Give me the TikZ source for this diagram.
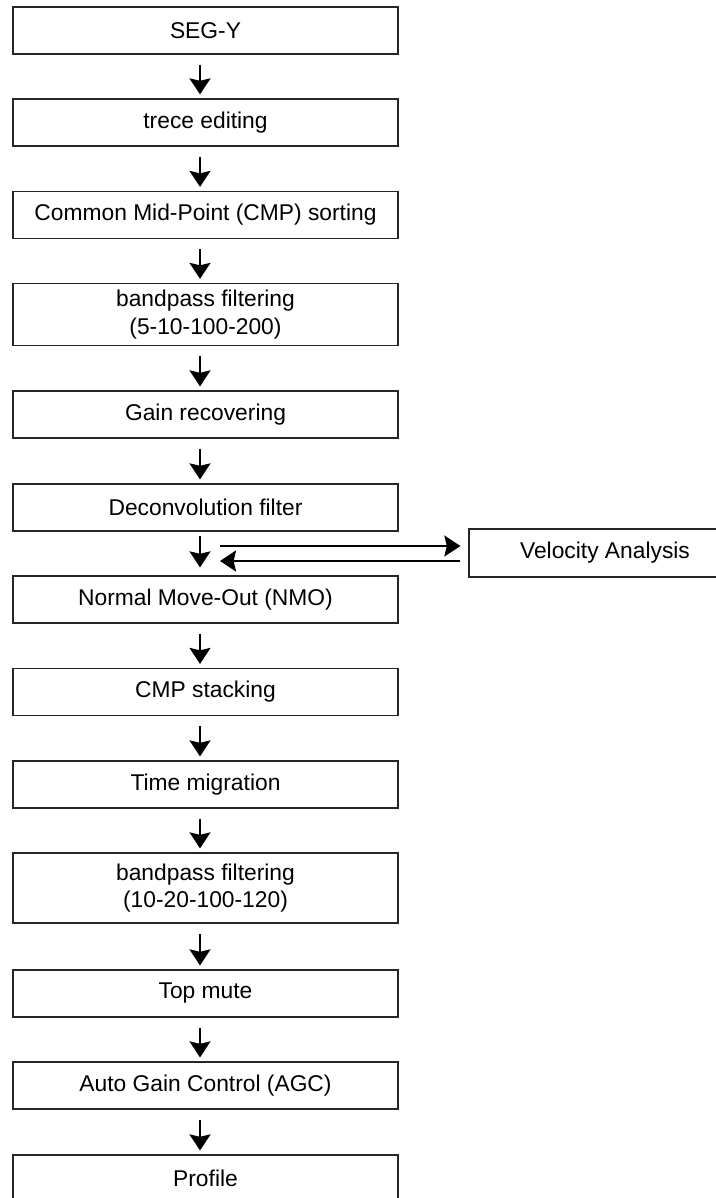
\documentclass[tikz,border=0pt]{standalone}
\usepackage{fontspec}
\setmainfont{Liberation Sans}
\usepackage{tikz}
\usetikzlibrary{arrows.meta, positioning}
\tikzstyle{process} = [rectangle, minimum width=192.5pt, minimum height=23.5pt, text centered, align=center, draw=black!85, line width=0.6pt, font=\fontsize{11.4}{13.6}\selectfont]
\tikzstyle{arrow}   = [line width=1.2pt, -{Stealth[length=8pt, width=10.5pt, inset=1.2pt]}]
\tikzstyle{flowdown} = [arrow, shorten <=5pt, shorten >=2pt]

\begin{document}
\begin{tikzpicture}[x=0.5pt, y=-0.5pt]
\useasboundingbox (0,0) rectangle (716,1198);
\node (segy) [process] at (205.5,30.5) {SEG-Y};
\node (editing) [process] at (205.5,122.5) {trece editing};
\node (sorting) [process] at (205.5,215) {Common Mid-Point (CMP) sorting};
\node (bandone) [process, minimum height=31pt] at (205.5,314.5) {bandpass filtering\\(5-10-100-200)};
\node (gain) [process] at (205.5,414.5) {Gain recovering};
\node (decon) [process] at (205.5,507.5) {Deconvolution filter};
\node (nmo) [process] at (205.5,599.5) {Normal Move-Out (NMO)};
\node (stack) [process] at (205.5,692) {CMP stacking};
\node (migration) [process] at (205.5,784.5) {Time migration};
\node (bandtwo) [process, minimum height=35pt] at (205.5,888) {bandpass filtering\\(10-20-100-120)};
\node (mute) [process] at (205.5,993.5) {Top mute};
\node (agc) [process] at (205.5,1085.5) {Auto Gain Control (AGC)};
\node (profile) [process] at (205.5,1178.5) {Profile};
\node (velocity) [process, minimum width=136pt, minimum height=24pt] at (605,553) {Velocity Analysis};
\coordinate (split) at (220,553);

\draw [flowdown] ([xshift=-2.75pt]segy.south) -- ([xshift=-2.75pt]editing.north);
\draw [flowdown] ([xshift=-2.75pt]editing.south) -- ([xshift=-2.75pt]sorting.north);
\draw [flowdown] ([xshift=-2.75pt]sorting.south) -- ([xshift=-2.75pt]bandone.north);
\draw [flowdown] ([xshift=-2.75pt]bandone.south) -- ([xshift=-2.75pt]gain.north);
\draw [flowdown] ([xshift=-2.75pt]gain.south) -- ([xshift=-2.75pt]decon.north);
\draw [arrow, shorten <=2pt, shorten >=4pt] ([xshift=-2.75pt]decon.south) -- ([xshift=-2.75pt]nmo.north);
\draw [flowdown] ([xshift=-2.75pt]nmo.south) -- ([xshift=-2.75pt]stack.north);
\draw [flowdown] ([xshift=-2.75pt]stack.south) -- ([xshift=-2.75pt]migration.north);
\draw [flowdown] ([xshift=-2.75pt]migration.south) -- ([xshift=-2.75pt]bandtwo.north);
\draw [flowdown] ([xshift=-2.75pt]bandtwo.south) -- ([xshift=-2.75pt]mute.north);
\draw [flowdown] ([xshift=-2.75pt]mute.south) -- ([xshift=-2.75pt]agc.north);
\draw [flowdown] ([xshift=-2.75pt]agc.south) -- ([xshift=-2.75pt]profile.north);
\draw [arrow, shorten >=4pt] ([yshift=3.5pt]split) -- ([yshift=3.5pt]velocity.west);
\draw [arrow, shorten <=4pt] ([yshift=-4pt]velocity.west) -- ([yshift=-4pt]split);
\end{tikzpicture}
\end{document}
